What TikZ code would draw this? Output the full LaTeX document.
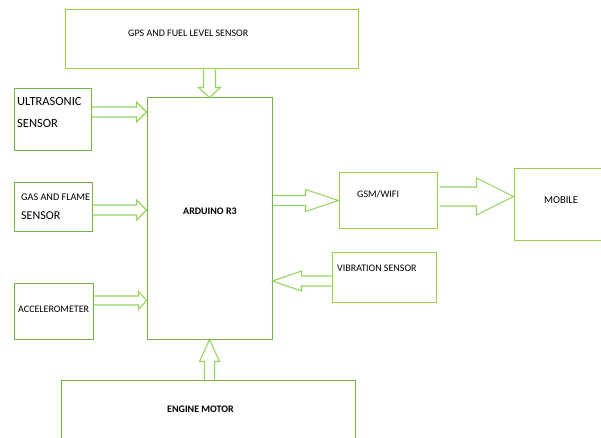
\documentclass[tikz,border=0pt]{standalone}
\usepackage{fontspec}
\setmainfont{Carlito}
\usetikzlibrary{calc}

\definecolor{boxgreen}{RGB}{112,180,72}
\definecolor{limegreen}{RGB}{150,212,70}
\definecolor{arrowgreen}{RGB}{150,212,95}

% hollow block arrow: from, to, shaft half width, head half width, head length
\newcommand{\hollowarrow}[5]{%
  \coordinate (hb) at ($(#2)!#5!(#1)$);
  \draw[arrowline] ($(#1)!#3!90:(#2)$) -- ($(hb)!#3!90:(#2)$) -- ($(hb)!#4!90:(#2)$)
    -- (#2) -- ($(hb)!#4!-90:(#2)$) -- ($(hb)!#3!-90:(#2)$) -- ($(#1)!#3!-90:(#2)$);
}

\begin{document}
\begin{tikzpicture}[
  x=1pt, y=-1pt,
  box/.style={draw=boxgreen, line width=1pt, inner sep=0pt},
  limebox/.style={box, draw=limegreen},
  arrowline/.style={draw=arrowgreen, line width=1.1pt, line join=miter},
  lbl/.style={inner sep=0pt, anchor=west, font=\fontsize{10}{12}\selectfont},
  bold/.style={lbl, font=\fontsize{10}{12}\selectfont\bfseries},
]
  \useasboundingbox (0,0) rectangle (601,438);

  % blocks
  \node[limebox, minimum width=293pt, minimum height=59pt] (gps) at (211.5,39.5) {};
  \node[box, minimum width=77pt, minimum height=62pt] (ultra) at (52.5,120) {};
  \node[box, minimum width=78pt, minimum height=48pt] (gas) at (53,207) {};
  \node[box, minimum width=79pt, minimum height=56pt] (accel) at (53.5,311) {};
  \node[box, minimum width=125pt, minimum height=241pt] (ard) at (209.5,218.5) {};
  \node[box, minimum width=294pt, minimum height=62pt] (engine) at (208,411) {};
  \node[limebox, minimum width=98pt, minimum height=55pt] (gsm) at (388,200.5) {};
  \node[limebox, minimum width=91pt, minimum height=71pt] (mobile) at (559.5,204.5) {};
  \node[limebox, minimum width=104pt, minimum height=50pt] (vib) at (384,277) {};

  % texts
  \node[lbl] (gpstxt) at (128,33) {GPS AND FUEL LEVEL SENSOR};
  \node[lbl, anchor=base west, font=\fontsize{12.5}{15}\selectfont] (ultratxt) at (17,106) {ULTRASONIC};
  \node[lbl, anchor=base west, font=\fontsize{12.5}{15}\selectfont] (ultratxt2) at (17,128) {SENSOR};
  \node[lbl, anchor=base west, font=\fontsize{10.2}{12}\selectfont] (gastxt) at (21,200.5) {GAS AND FLAME};
  \node[lbl, anchor=base west, font=\fontsize{12}{14}\selectfont] (gastxt2) at (21,219) {SENSOR};
  \node[lbl] (acceltxt) at (18,309) {ACCELEROMETER};
  \node[bold] (ardtxt) at (183,211) {ARDUINO R3};
  \node[bold] (enginetxt) at (167,409) {ENGINE MOTOR};
  \node[lbl] (gsmtxt) at (357,194) {GSM/WIFI};
  \node[lbl, font=\fontsize{10.5}{12}\selectfont] (mobiletxt) at (544,200) {MOBILE};
  \node[lbl] (vibtxt) at (337,268) {VIBRATION SENSOR};

  % connectors
  \coordinate (u1) at ($(ultra.east)+(0,-8)$);
  \coordinate (u2) at (u1 -| ard.west);
  \coordinate (g1) at ($(gas.east)+(0,3)$);
  \coordinate (g2) at (g1 -| ard.west);
  \coordinate (a1) at ($(accel.east)+(0,-10.5)$);
  \coordinate (a2) at (a1 -| ard.west);
  \coordinate (s1) at (ard.north |- gps.south);
  \coordinate (e1) at (ard.south |- engine.north);
  \coordinate (w1) at (gsm.west -| ard.east);
  \coordinate (m1) at ($(gsm.east)+(2,-4)$);
  \coordinate (m2) at (m1 -| mobile.west);
  \coordinate (v1) at ($(vib.west)+(0,4)$);
  \coordinate (v2) at (v1 -| ard.east);

  \hollowarrow{s1}{ard.north}{6pt}{11pt}{10pt}
  \hollowarrow{u1}{u2}{5pt}{10pt}{10pt}
  \hollowarrow{g1}{g2}{5pt}{10pt}{10pt}
  \hollowarrow{a1}{a2}{4.5pt}{9pt}{8pt}
  \hollowarrow{e1}{ard.south}{5pt}{10pt}{22pt}
  \hollowarrow{w1}{gsm.west}{5pt}{11pt}{33pt}
  \hollowarrow{m1}{m2}{9.5pt}{18.5pt}{37pt}
  \hollowarrow{v1}{v2}{5pt}{10pt}{29pt}
\end{tikzpicture}
\end{document}
